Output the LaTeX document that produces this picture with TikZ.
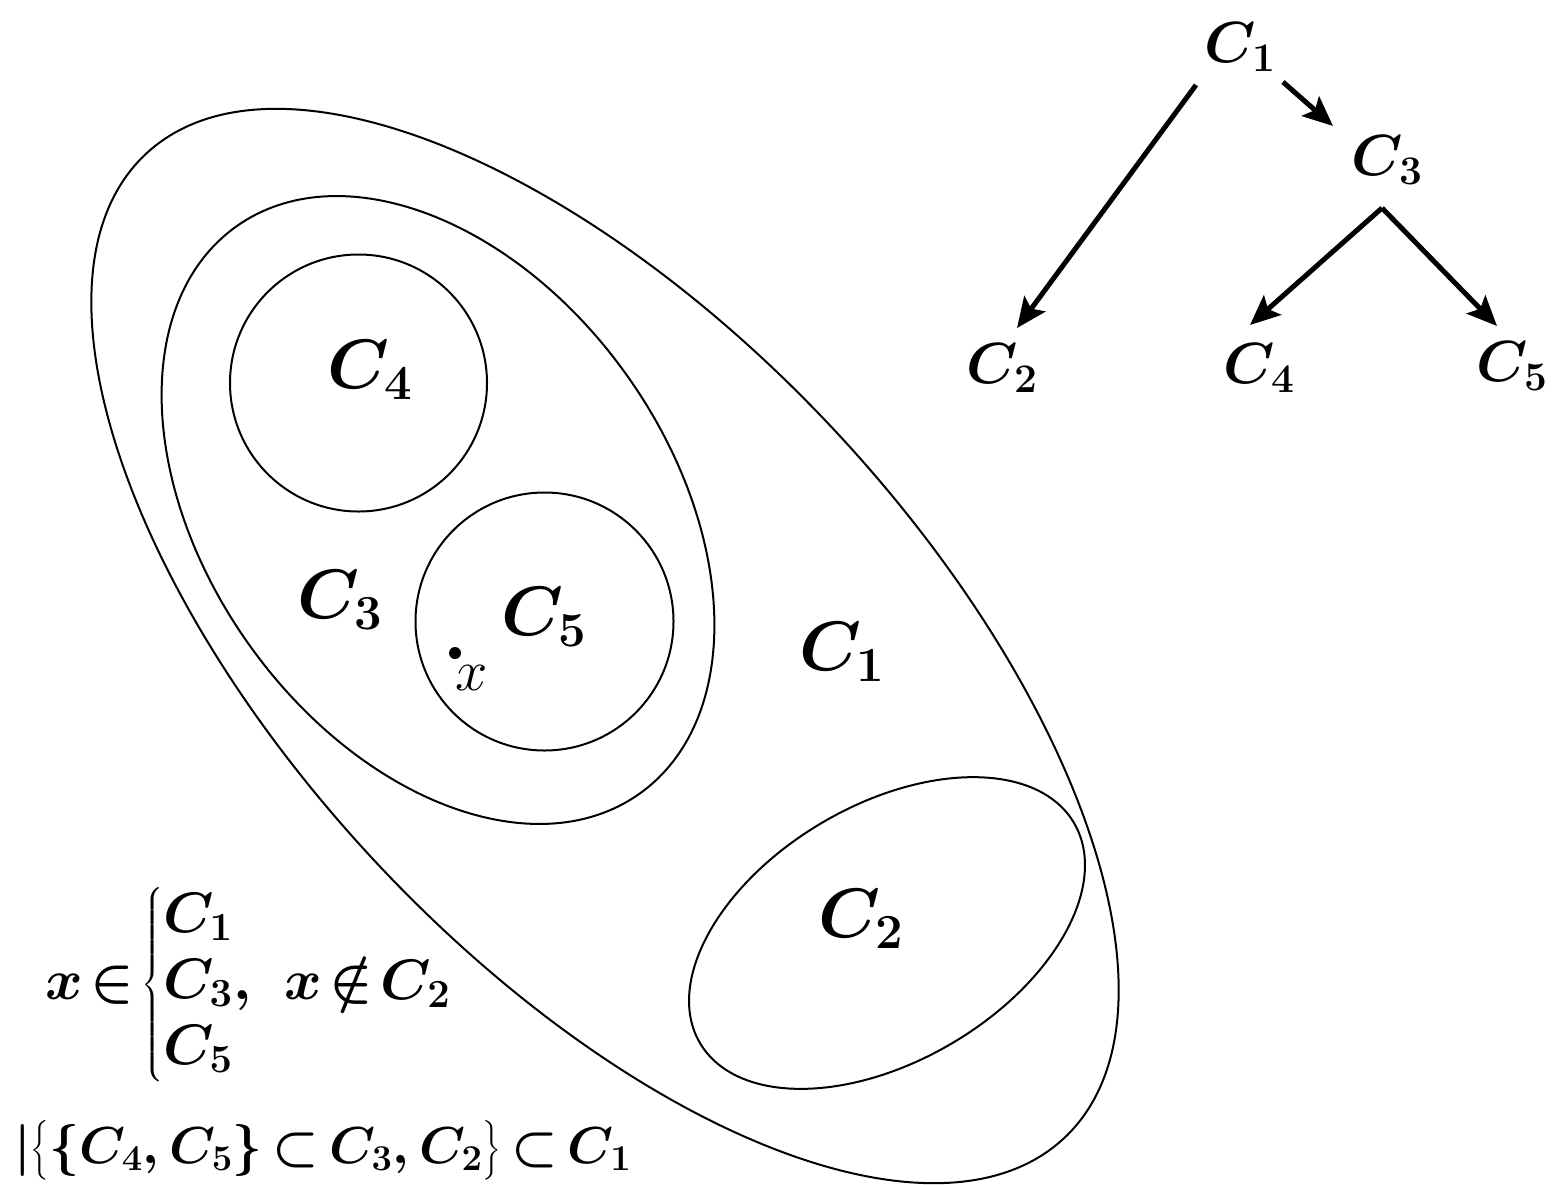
\documentclass[tikz,border=0pt]{standalone}
\usepackage{fix-cm}
\usepackage{amsmath,bm}
\usetikzlibrary{arrows.meta,calc}
\begin{document}
\begin{tikzpicture}[x=1pt,y=-1pt,
  shp/.style={draw, line width=2pt},
  lbl/.style={inner sep=0pt, font=\fontsize{70}{80}\selectfont\mathversion{bold}},
  tlbl/.style={inner sep=0pt, font=\fontsize{58}{70}\selectfont\mathversion{bold}},
  xlbl/.style={inner sep=0pt, font=\fontsize{58}{64}\selectfont},
  fml/.style={inner sep=0pt, font=\fontsize{57}{66}\selectfont\mathversion{bold}},
  fmlb/.style={inner sep=0pt, font=\fontsize{52}{60}\selectfont\mathversion{bold}},
  arr/.style={line width=5pt, -{Stealth[length=30pt,width=26pt,inset=6pt]}}]
\useasboundingbox (0,0) rectangle (1554,1184);
\fill[white] (0,0) rectangle (1554,1184);

% sets
\draw[shp, rotate around={-47:(605,646)}] (605,646) ellipse [x radius=673pt, y radius=315pt];
\draw[shp, rotate around={-54.6:(438,510)}] (438,510) ellipse [x radius=348pt, y radius=232pt];
\draw[shp, rotate around={30.5:(887,933)}] (887,933) ellipse [x radius=217pt, y radius=128pt];
\draw[shp] (358.5,383) circle [radius=128.5pt];
\draw[shp] (544.5,621.5) circle [radius=129pt];
\fill (455,653) circle [radius=6pt];

\node[lbl] (s4) at (370,370) {$C_4$};
\node[lbl] (s5) at (544,617) {$C_5$};
\node[lbl] (s3) at (340,600) {$C_3$};
\node[lbl] (s1) at (842,652) {$C_1$};
\node[lbl] (s2) at (861,919) {$C_2$};
\node[xlbl] (xl) at (472,678) {$x$};

% tree
\node[tlbl] (t1) at (1240,47) {$C_1$};
\node[tlbl] (t3) at (1387,160) {$C_3$};
\node[tlbl] (t2) at (1002,368) {$C_2$};
\node[tlbl] (t4) at (1259,368) {$C_4$};
\node[tlbl] (t5) at (1512,366) {$C_5$};
\draw[arr] ($(t1.center)+(-44,38)$) -- ($(t2.center)+(15,-40)$);
\draw[arr] ($(t1.center)+(43,35)$) -- ($(t3.center)+(-54,-34)$);
\draw[arr] ($(t3.center)+(-5,48)$) -- ($(t4.center)+(-9,-43)$);
\draw[arr] ($(t3.center)+(-5,48)$) -- ($(t5.center)+(-15,-40)$);

% formulas
\node[fml, anchor=west] (f1) at (45,985) {$\thickmuskip=2mu x\in\left\{\begin{array}{@{}l@{}}C_1\\C_3\\C_5\end{array}\right.\!,\hspace{22pt}x\notin C_2$};
\node[fmlb, anchor=base west] (f2) at (14,1163) {$\thickmuskip=3mu \text{\bfseries|}\bigl\{\{C_4,C_5\}\subset C_3,C_2\bigr\}\subset C_1$};
\end{tikzpicture}
\end{document}
